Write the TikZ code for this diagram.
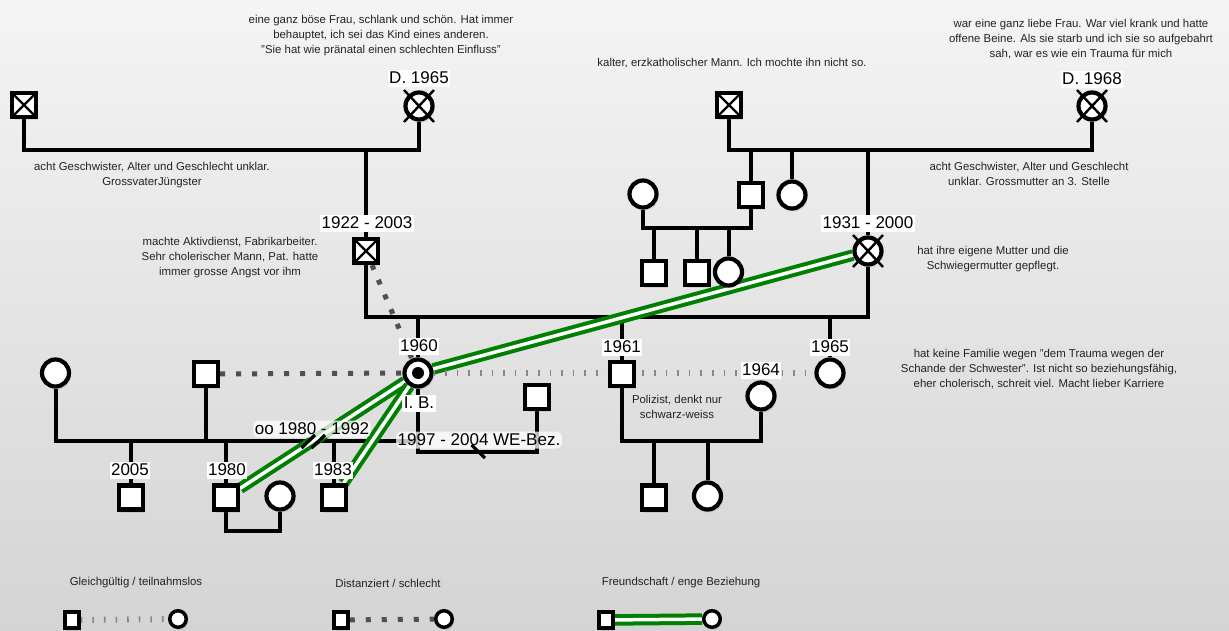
\documentclass[tikz,border=0pt]{standalone}
\usepackage{fontspec}
\setmainfont{Liberation Sans}
\usetikzlibrary{shadows}
\pgfdeclarelayer{bg}
\pgfsetlayers{bg,main}
\definecolor{relgreen}{RGB}{0,128,0}
\definecolor{distgray}{RGB}{80,80,80}
\definecolor{indgray}{RGB}{135,135,135}
\definecolor{notegray}{RGB}{35,35,35}
\definecolor{bgtop}{RGB}{244,244,244}
\definecolor{bgmid}{RGB}{228,228,228}
\definecolor{bgbot}{RGB}{212,212,212}
\tikzset{
  person/.style={draw=black, line width=4.2pt, fill=white, inner sep=0pt,
    drop shadow={shadow xshift=2pt, shadow yshift=-3pt, opacity=0.18}},
  msq/.style={person, rectangle, minimum size=24pt},
  fci/.style={person, circle, minimum size=27pt},
  dsq/.style={msq, path picture={
      \draw[line width=2.4pt] (path picture bounding box.north west) -- (path picture bounding box.south east)
        (path picture bounding box.north east) -- (path picture bounding box.south west);}},
  lsq/.style={person, rectangle, line width=3.5pt, minimum width=14pt, minimum height=16pt},
  lci/.style={person, circle, line width=3.5pt, minimum size=16.5pt},
  conn/.style={line width=4pt, line join=miter},
  friend/.style={draw=relgreen, line width=4pt, double=white, double distance=3.5pt},
  distant/.style={draw=distgray, line width=5pt, dash pattern=on 5pt off 11pt},
  indiff/.style={draw=indgray, line width=6pt, dash pattern=on 1.6pt off 10pt},
  xmark/.style={line width=2.4pt},
  slash/.style={line width=3.2pt},
  yr/.style={fill=white, inner xsep=1.5pt, inner ysep=0.5pt, text height=13pt, text depth=3pt,
    font=\fontsize{17}{17}\selectfont},
  halo/.style={yr, fill opacity=0.75, text opacity=1, rounded corners=5pt},
  note/.style={align=center, inner sep=0pt, text=notegray, font=\fontsize{11.4}{15}\selectfont},
}
\begin{document}
\begin{tikzpicture}[x=1pt,y=-1pt]
\useasboundingbox (0,0) rectangle (1229,631);
\begin{pgfonlayer}{bg}
\shade[top color=bgtop, middle color=bgmid, bottom color=bgbot] (0,0) rectangle (1229,631);
\end{pgfonlayer}

% ---------- persons ----------
\node[dsq] (gf1) at (24,105) {};
\node[fci] (gm1) at (419,106) {};
\node[dsq] (gf2) at (729,105) {};
\node[fci] (gm2) at (1092,106) {};
\node[dsq] (fa) at (366,251) {};
\node[fci] (mo) at (868,251) {};
\node[fci] (auntw) at (643,194) {};
\node[msq] (uncle) at (751,195) {};
\node[fci] (aunt) at (792,195) {};
\node[msq] (cou1) at (654,273) {};
\node[msq] (cou2) at (697,273) {};
\node[fci] (cou3) at (728.5,272) {};
\node[fci] (ib) at (418,373) {};
\node[msq] (br) at (622,374) {};
\node[fci] (sis) at (830,373) {};
\node[fci] (bw) at (761,396) {};
\node[fci] (exw) at (55.5,373) {};
\node[msq] (h1) at (206,374) {};
\node[msq] (p2) at (537,397) {};
\node[msq] (k2005) at (131,497.5) {};
\node[msq] (k1980) at (226,497.5) {};
\node[fci] (dil) at (280,496) {};
\node[msq] (k1983) at (334,497.5) {};
\node[msq] (n1) at (654,497.5) {};
\node[fci] (n2) at (707.5,496) {};
% legend persons
\node[lsq] (lsq1) at (72,620) {};
\node[lci] (lci1) at (178,619) {};
\node[lsq] (lsq2) at (341,620) {};
\node[lci] (lci2) at (444,619) {};
\node[lsq] (lsq3) at (606,620) {};
\node[lci] (lci3) at (712,619) {};

% ---------- junction coordinates ----------
\coordinate (c1) at (366,150);
\coordinate (c2) at (868,150);
\coordinate (c3) at (697,228);
\coordinate (c4) at (622,317);
\coordinate (c5) at (418,441);
\coordinate (c6) at (478,452);
\coordinate (c7) at (253,531);
\coordinate (c8) at (690,441);

% ---------- connectors (behind persons) ----------
\begin{pgfonlayer}{bg}
\draw[conn] (gf1.south) |- (c1) -| (gm1.south);
\draw[conn] (c1) -- (fa.north);
\draw[conn] (gf2.south) |- (c2) -| (gm2.south);
\draw[conn] (c2) -- (mo.north);
\draw[conn] (uncle.north |- c2) -- (uncle.north);
\draw[conn] (aunt.north |- c2) -- (aunt.north);
\draw[conn] (auntw.south) |- (c3) -| (uncle.south);
\draw[conn] (cou1.north |- c3) -- (cou1.north);
\draw[conn] (cou2.north |- c3) -- (cou2.north);
\draw[conn] (cou3.north |- c3) -- (cou3.north);
\draw[conn] (fa.south) |- (c4) -| (mo.south);
\draw[conn] (ib.north |- c4) -- (ib.north);
\draw[conn] (br.north |- c4) -- (br.north);
\draw[conn] (sis.north |- c4) -- (sis.north);
\draw[conn] (exw.south) |- (c5);
\draw[conn] (h1.south) -- (h1.south |- c5);
\draw[conn] (ib.south) |- (c6) -| (p2.south);
\draw[conn] (k2005.north |- c5) -- (k2005.north);
\draw[conn] (k1980.north |- c5) -- (k1980.north);
\draw[conn] (k1983.north |- c5) -- (k1983.north);
\draw[conn] (k1980.south) |- (c7) -| (dil.south);
\draw[conn] (br.south) |- (c8) -| (bw.south);
\draw[conn] (n1.north |- c8) -- (n1.north);
\draw[conn] (n2.north |- c8) -- (n2.north);
% emotional relationships
\draw[friend] (ib) -- (mo);
\draw[friend] (ib) -- (k1980);
\draw[friend] (ib) -- (k1983);
\draw[distant] (fa) -- (ib);
\draw[distant] (h1) -- (ib);
\draw[indiff] (ib) -- (sis);
% legend lines
\draw[indiff] (lsq1) -- (lci1);
\draw[distant] (lsq2) -- (lci2);
\draw[friend] (lsq3) -- (lci3);
\end{pgfonlayer}

% ---------- marks on persons ----------
\foreach \n in {gm1,gm2,mo}{
  \draw[xmark] ([shift={(-15,-16)}]\n.center) -- ([shift={(15,16)}]\n.center);
  \draw[xmark] ([shift={(15,-16)}]\n.center) -- ([shift={(-15,16)}]\n.center);
}
\fill (ib.center) circle (6);

% ---------- labels ----------
\node[yr] (lb1) at (419,79) {D. 1965};
\node[yr] (lb2) at (1092,80) {D. 1968};
\node[yr] (lb3) at (367,224) {1922 - 2003};
\node[yr] (lb4) at (868,224) {1931 - 2000};
\node[yr] (lb5) at (419,346.5) {1960};
\node[yr] (lb6) at (622,347) {1961};
\node[yr] (lb7) at (830,347) {1965};
\node[yr] (lb8) at (761,370) {1964};
\node[yr] (lb9) at (419,403.5) {I. B.};
\node[yr] (lb10) at (130,470) {2005};
\node[yr] (lb11) at (227,470) {1980};
\node[yr] (lb12) at (333,470) {1983};
\node[halo] (lb13) at (312,429) {oo 1980 - 1992};
\node[halo] (lb14) at (479,440) {1997 - 2004 WE-Bez.};

% divorce / separation marks (on top)
\draw[slash] (301.5,448) -- (315,435);
\draw[slash] (311.5,448) -- (325,435);
\draw[slash] (471.5,445) -- (485,458);

% ---------- notes ----------
\node[note] (t1) at (381,35.5) {eine ganz böse Frau, schlank und schön. Hat immer\\behauptet, ich sei das Kind eines anderen.\\"Sie hat wie pränatal einen schlechten Einfluss"};
\node[note] (t2) at (732,63) {kalter, erzkatholischer Mann. Ich mochte ihn nicht so.};
\node[note] (t3) at (1081,39) {war eine ganz liebe Frau. War viel krank und hatte\\offene Beine. Als sie starb und ich sie so aufgebahrt\\sah, war es wie ein Trauma für mich};
\node[note] (t4) at (152,175.5) {acht Geschwister, Alter und Geschlecht unklar.\\GrossvaterJüngster};
\node[note] (t5) at (1029,173.5) {acht Geschwister, Alter und Geschlecht\\unklar. Grossmutter an 3. Stelle};
\node[note] (t6) at (230,257.5) {machte Aktivdienst, Fabrikarbeiter.\\Sehr cholerischer Mann, Pat. hatte\\immer grosse Angst vor ihm};
\node[note] (t7) at (993,259.5) {hat ihre eigene Mutter und die\\Schwiegermutter gepflegt.};
\node[note] (t8) at (1039,369.5) {hat keine Familie wegen "dem Trauma wegen der\\Schande der Schwester". Ist nicht so beziehungsfähig,\\eher cholerisch, schreit viel. Macht lieber Karriere};
\node[note] (t9) at (677,407) {Polizist, denkt nur\\schwarz-weiss};
\node[note] (t10) at (136,583) {Gleichgültig / teilnahmslos};
\node[note] (t11) at (388,583) {Distanziert / schlecht};
\node[note] (t12) at (681,583) {Freundschaft / enge Beziehung};
\end{tikzpicture}
\end{document}
